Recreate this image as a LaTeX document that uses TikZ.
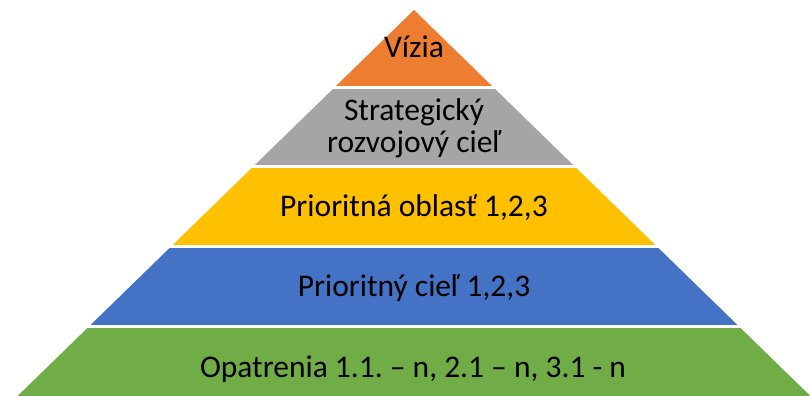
\documentclass[tikz,border=0pt]{standalone}
\usepackage{fontspec}
\setmainfont{Carlito}
\frenchspacing
\definecolor{cOrange}{HTML}{ED7D31}
\definecolor{cGray}{HTML}{A5A5A5}
\definecolor{cYellow}{HTML}{FFC000}
\definecolor{cBlue}{HTML}{4472C4}
\definecolor{cGreen}{HTML}{70AD47}
\tikzset{
  lbl/.style={anchor=base, inner sep=0pt, text=black, font=\fontsize{31.5}{33}\selectfont\frenchspacing, align=center}
}
\begin{document}
\begin{tikzpicture}[x=1pt,y=1pt]
\useasboundingbox (0,0) rectangle (811,396);
\begin{scope}
  \clip (414,386) -- (810.4,0) -- (17.6,0) -- cycle;
  \fill[cOrange] (0,310) rectangle (811,390);
  \fill[cGray]   (0,231) rectangle (811,307);
  \fill[cYellow] (0,151) rectangle (811,227.5);
  \fill[cBlue]   (0,71)  rectangle (811,148);
  \fill[cGreen]  (0,0)   rectangle (811,68);
\end{scope}
\node[lbl] (vizia) at (414,338) {Vízia};
\node[lbl] (strat1) at (414,275) {Strategický};
\node[lbl] (strat2) at (414,243) {rozvojový cieľ};
\node[lbl] (oblast) at (414,179) {Prioritná oblasť 1,2,3};
\node[lbl] (ciel) at (414,99) {Prioritný cieľ 1,2,3};
\node[lbl] (opatrenia) at (413,18) {Opatrenia 1.1. – n, 2.1 – n, 3.1 - n};
\end{tikzpicture}
\end{document}
